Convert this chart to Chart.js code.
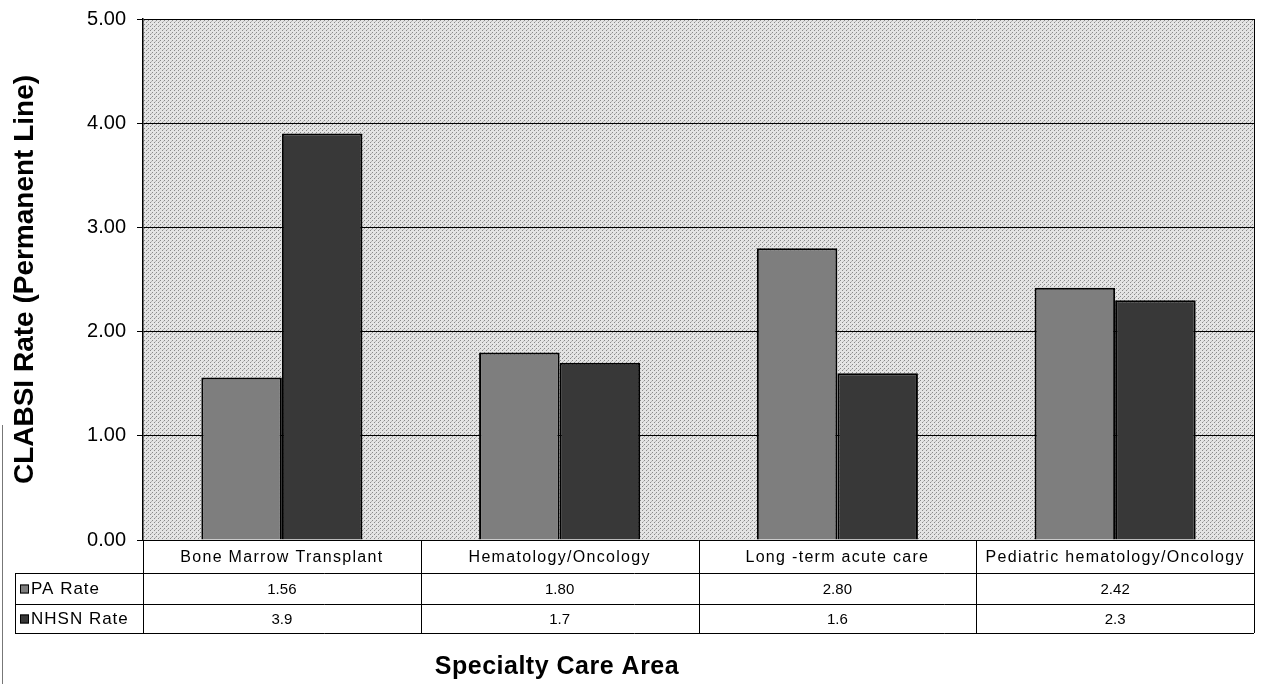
<!DOCTYPE html>
<html>
<head>
<meta charset="utf-8">
<script src="https://cdn.jsdelivr.net/npm/chart.js@4/dist/chart.umd.min.js"></script>
<style>
  html, body { margin: 0; padding: 0; background: #fff; }
  #wrap { width: 1263px; height: 684px; }
</style>
</head>
<body>
<div id="wrap"><canvas id="chart" width="1263" height="684"></canvas></div>
<script>
const categories = ['Bone Marrow Transplant', 'Hematology/Oncology', 'Long -term acute care', 'Pediatric hematology/Oncology']
const paRate = [1.56, 1.80, 2.80, 2.42]
const nhsnRate = [3.9, 1.7, 1.6, 2.3]
const seriesNames = ['PA Rate', 'NHSN Rate']
const yTicks = [0, 1, 2, 3, 4, 5]

const FONT = "'Liberation Sans', Arial, sans-serif"
const paColor = '#7e7e7e'
const nhsnColor = '#383838'

// stippled grey backdrop like the scanned plot area
function makeStipple() {
    const c = document.createElement('canvas')
    c.width = 4
    c.height = 4
    const g = c.getContext('2d')
    g.fillStyle = '#e4e4e4'
    g.fillRect(0, 0, 4, 4)
    g.fillStyle = '#8a8a8a'
    g.fillRect(0, 0, 1, 1)
    g.fillRect(2, 2, 1, 1)
    g.fillStyle = '#b8b8b8'
    g.fillRect(3, 1, 1, 1)
    return c
}

const tablePlugin = {
    id: 'tablePlugin',
    beforeDraw(chart) {
        const { ctx, chartArea: a } = chart
        ctx.save()
        ctx.fillStyle = ctx.createPattern(makeStipple(), 'repeat')
        ctx.fillRect(a.left, a.top, a.right - a.left, a.bottom - a.top)
        ctx.restore()
    },
    afterDraw(chart) {
        const { ctx, chartArea: a } = chart
        const x = chart.scales.x
        const n = categories.length
        const step = (a.right - a.left) / n
        const rowTop = a.bottom
        const row1 = 573
        const row2 = 604
        const row3 = 633
        const legLeft = 15

        ctx.save()
        ctx.strokeStyle = '#000'
        ctx.lineWidth = 1

        // right border of plot
        ctx.beginPath()
        ctx.moveTo(a.right + 0.5, a.top)
        ctx.lineTo(a.right + 0.5, row3)
        ctx.stroke()

        // table grid
        ctx.beginPath()
        ctx.moveTo(legLeft, row1 + 0.5); ctx.lineTo(a.right, row1 + 0.5)
        ctx.moveTo(legLeft, row2 + 0.5); ctx.lineTo(a.right, row2 + 0.5)
        ctx.moveTo(legLeft, row3 + 0.5); ctx.lineTo(a.right, row3 + 0.5)
        ctx.moveTo(legLeft + 0.5, row1); ctx.lineTo(legLeft + 0.5, row3)
        for (let i = 0; i <= n; i++) {
            const px = Math.round(a.left + step * i) + 0.5
            ctx.moveTo(px, rowTop); ctx.lineTo(px, row3)
        }
        ctx.stroke()

        // scan edge line on the far left
        ctx.strokeStyle = '#777'
        ctx.beginPath()
        ctx.moveTo(2.5, 425); ctx.lineTo(2.5, 684)
        ctx.stroke()

        ctx.fillStyle = '#000'
        ctx.textAlign = 'center'
        ctx.textBaseline = 'middle'
        categories.forEach((c, i) => {
            const cx = x.getPixelForValue(i)
            ctx.font = '16px ' + FONT
            ctx.letterSpacing = '1.3px'
            ctx.fillText(c, cx, (rowTop + row1) / 2 + 1)
            ctx.letterSpacing = '0px'
            ctx.font = '15px ' + FONT
            ctx.fillText(paRate[i].toFixed(2), cx, (row1 + row2) / 2 + 1)
            ctx.fillText(nhsnRate[i].toFixed(1), cx, (row2 + row3) / 2 + 1)
        })

        // legend keys
        ctx.textAlign = 'left'
        const keyColors = [paColor, nhsnColor]
        const ys = [(row1 + row2) / 2, (row2 + row3) / 2]
        seriesNames.forEach((s, i) => {
            ctx.fillStyle = keyColors[i]
            ctx.fillRect(20, ys[i] - 4, 9, 9)
            ctx.strokeStyle = '#000'
            ctx.strokeRect(20.5, ys[i] - 3.5, 8, 8)
            ctx.fillStyle = '#000'
            ctx.font = '17px ' + FONT
            ctx.letterSpacing = '1px'
            ctx.fillText(s, 31, ys[i] + 1)
        })
        ctx.letterSpacing = '0px'

        // x axis title
        ctx.textAlign = 'center'
        ctx.font = 'bold 25px ' + FONT
        ctx.letterSpacing = '0.5px'
        ctx.fillText('Specialty Care Area', 557, 667)
        ctx.restore()
    }
}

new Chart(document.getElementById('chart'), {
    type: 'bar',
    data: {
        labels: categories,
        datasets: [
            {
                label: seriesNames[0],
                data: paRate,
                backgroundColor: paColor,
                borderColor: '#000',
                borderWidth: 2,
                borderSkipped: 'bottom'
            },
            {
                label: seriesNames[1],
                data: nhsnRate,
                backgroundColor: nhsnColor,
                borderColor: '#000',
                borderWidth: 2,
                borderSkipped: 'bottom'
            }
        ]
    },
    options: {
        responsive: false,
        animation: false,
        layout: { padding: { left: 8, right: 9, top: 19, bottom: 0 } },
        datasets: { bar: { categoryPercentage: 0.58, barPercentage: 1.0 } },
        plugins: {
            legend: { display: false },
            tooltip: { enabled: false }
        },
        scales: {
            x: {
                ticks: { display: false },
                grid: { display: false },
                border: { display: false },
                afterFit(scale) { scale.height = 144 }
            },
            y: {
                min: 0,
                max: 5,
                afterBuildTicks(scale) { scale.ticks = yTicks.map(v => ({ value: v })) },
                afterFit(scale) {
                    scale.width = 135
                    scale.paddingTop = 0
                    scale.paddingBottom = 0
                },
                ticks: {
                    color: '#000',
                    padding: 11,
                    font: { family: FONT, size: 20 },
                    callback: v => Number(v).toFixed(2)
                },
                grid: { color: '#000', lineWidth: 1, tickLength: 6 },
                border: { color: '#000', width: 1.5 },
                title: {
                    display: true,
                    text: 'CLABSI Rate (Permanent Line)',
                    color: '#000',
                    font: { family: FONT, size: 28, weight: 'bold' },
                    padding: { top: 0, bottom: 4 }
                }
            }
        }
    },
    plugins: [tablePlugin]
})
</script>
</body>
</html>
